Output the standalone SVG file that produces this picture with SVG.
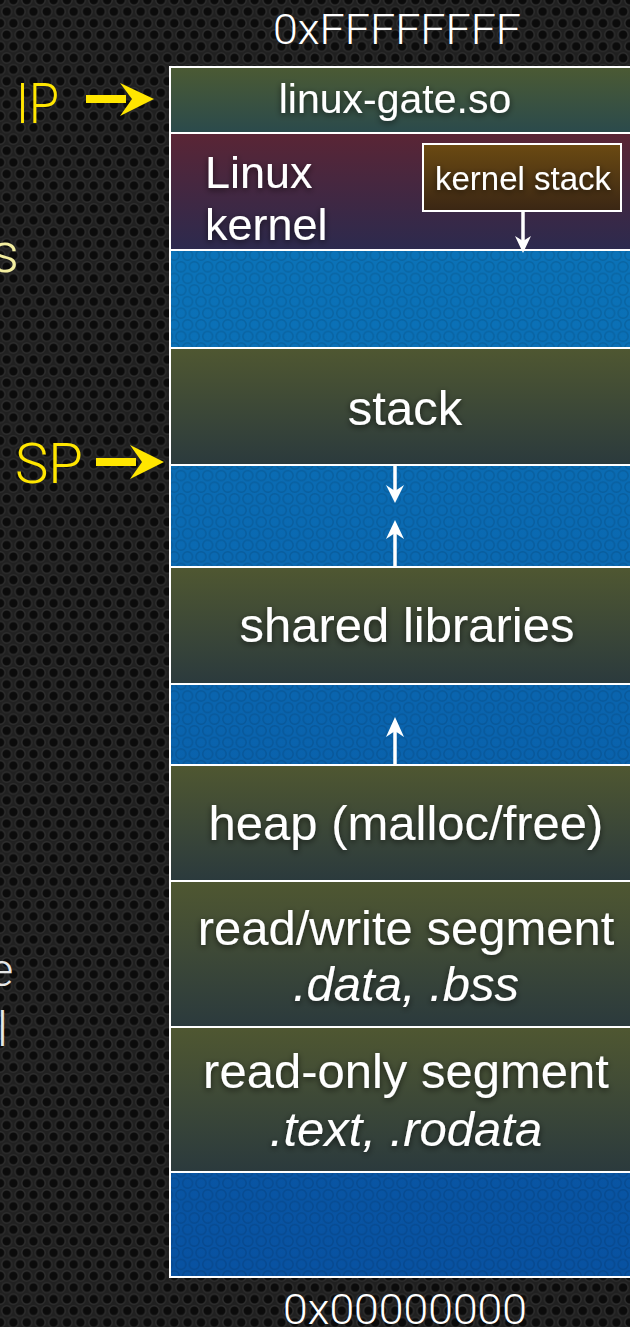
<svg xmlns="http://www.w3.org/2000/svg" width="630" height="1327" viewBox="0 0 630 1327">
<style>
.seg{stroke:#ffffff;stroke-width:2}
.lbl{font-family:"Liberation Sans",Arial,sans-serif;fill:#ffffff;text-anchor:middle;filter:url(#sh)}
.big{font-size:49px}
.it{font-style:italic}
.thin{font-family:Roboto,"Liberation Sans",sans-serif;font-weight:300}
.addr{font-size:43px;fill:#ffffff;text-anchor:middle}
.reg{font-size:55px;fill:#ffe600}
.conn{stroke:#ffffff;stroke-width:3.5;fill:none}
.head{fill:#ffffff}
.yel{stroke:#ffe600;stroke-width:8;fill:none}
.yhead{fill:#ffe600}
</style>
<defs>
<pattern id="holes" width="13.4" height="23.2" patternUnits="userSpaceOnUse">
<rect width="13.4" height="23.2" fill="#202020"/>
<g fill="#0b0b0b" stroke="#2e2e2e" stroke-width="1.4">
<circle cx="0" cy="0" r="5"/><circle cx="13.4" cy="0" r="5"/>
<circle cx="6.7" cy="11.6" r="5"/>
<circle cx="0" cy="23.2" r="5"/><circle cx="13.4" cy="23.2" r="5"/>
</g>
</pattern>
<pattern id="bholes" width="13.4" height="23.2" patternUnits="userSpaceOnUse">
<g fill="none" stroke="#000000" stroke-opacity="0.12" stroke-width="1.4">
<circle cx="0" cy="0" r="5"/><circle cx="13.4" cy="0" r="5"/>
<circle cx="6.7" cy="11.6" r="5"/>
<circle cx="0" cy="23.2" r="5"/><circle cx="13.4" cy="23.2" r="5"/>
</g>
</pattern>
<linearGradient id="gseg" x1="0" y1="0" x2="0" y2="1">
<stop offset="0" stop-color="#4f5731"/><stop offset="1" stop-color="#2b3a3d"/>
</linearGradient>
<linearGradient id="glg" x1="0" y1="0" x2="0" y2="1">
<stop offset="0" stop-color="#4b5a33"/><stop offset="1" stop-color="#2a4a4c"/>
</linearGradient>
<linearGradient id="gker" x1="0" y1="0" x2="0" y2="1">
<stop offset="0" stop-color="#5a2535"/><stop offset="1" stop-color="#2c2a4e"/>
</linearGradient>
<linearGradient id="gks" x1="0" y1="0" x2="0" y2="1">
<stop offset="0" stop-color="#6b4a12"/><stop offset="1" stop-color="#3a2614"/>
</linearGradient>
<linearGradient id="gblue" x1="0" y1="0" x2="0" y2="1327" gradientUnits="userSpaceOnUse">
<stop offset="0.18" stop-color="#0b73b8"/><stop offset="1" stop-color="#0850a0"/>
</linearGradient>
<filter id="sh" x="-10%" y="-30%" width="120%" height="160%">
<feDropShadow dx="0" dy="2" stdDeviation="3" flood-color="#000000" flood-opacity="0.6"/>
</filter>
</defs>

<rect width="630" height="1327" fill="url(#holes)"/>

<g id="fragments" class="thin">
<text x="-9" y="272" font-size="55" fill="#f3eea0">s</text>
<text x="-11" y="986" font-size="47" fill="#e6e6e6">e</text>
<text x="-3" y="1046" font-size="48" fill="#e6e6e6">l</text>
</g>

<g id="addr-top"><text class="thin addr" x="397" y="44" textLength="248" lengthAdjust="spacingAndGlyphs">0xFFFFFFFF</text></g>
<g id="addr-bottom"><text class="thin addr" x="405" y="1324" textLength="244" lengthAdjust="spacingAndGlyphs">0x00000000</text></g>

<g id="gap1"><rect class="seg" x="170" y="250" width="470" height="98" fill="url(#gblue)"/><rect x="171" y="251" width="470" height="96" fill="url(#bholes)"/></g>
<g id="gap2"><rect class="seg" x="170" y="465" width="470" height="102" fill="url(#gblue)"/><rect x="171" y="466" width="470" height="100" fill="url(#bholes)"/></g>
<g id="gap3"><rect class="seg" x="170" y="684" width="470" height="81" fill="url(#gblue)"/><rect x="171" y="685" width="470" height="79" fill="url(#bholes)"/></g>
<g id="gap4"><rect class="seg" x="170" y="1172" width="470" height="105" fill="url(#gblue)"/><rect x="171" y="1173" width="470" height="103" fill="url(#bholes)"/></g>

<g id="linux-gate">
<rect class="seg" x="170" y="67" width="470" height="66" fill="url(#glg)"/>
<text class="lbl" x="395" y="113" font-size="41">linux-gate.so</text>
</g>

<g id="kernel">
<rect class="seg" x="170" y="133" width="470" height="117" fill="url(#gker)"/>
<text class="lbl" x="205" y="188" font-size="45" style="text-anchor:start">Linux</text>
<text class="lbl" x="205" y="240" font-size="45" style="text-anchor:start">kernel</text>
</g>

<g id="kernel-stack">
<rect x="423" y="144" width="198" height="67" fill="url(#gks)" stroke="#ffffff" stroke-width="2"/>
<text class="lbl" x="523" y="190" font-size="33">kernel stack</text>
</g>

<g id="stack">
<rect class="seg" x="170" y="348" width="470" height="117" fill="url(#gseg)"/>
<text class="lbl big" x="405" y="425">stack</text>
</g>

<g id="shared-libraries">
<rect class="seg" x="170" y="567" width="470" height="117" fill="url(#gseg)"/>
<text class="lbl big" x="407" y="642">shared libraries</text>
</g>

<g id="heap">
<rect class="seg" x="170" y="765" width="470" height="116" fill="url(#gseg)"/>
<text class="lbl big" x="406" y="840">heap (malloc/free)</text>
</g>

<g id="rw-segment">
<rect class="seg" x="170" y="881" width="470" height="146" fill="url(#gseg)"/>
<text class="lbl big" x="406" y="945">read/write segment</text>
<text class="lbl big it" x="406" y="1001">.data, .bss</text>
</g>

<g id="ro-segment">
<rect class="seg" x="170" y="1027" width="470" height="145" fill="url(#gseg)"/>
<text class="lbl big" x="406" y="1088">read-only segment</text>
<text class="lbl big it" x="406" y="1146">.text, .rodata</text>
</g>

<g id="IP">
<text class="thin reg" x="16" y="123" textLength="43" lengthAdjust="spacingAndGlyphs">IP</text>
</g>
<g id="SP">
<text class="thin reg" x="15" y="483" textLength="68" lengthAdjust="spacingAndGlyphs">SP</text>
</g>

<g id="connectors">
<line class="conn" x1="523" y1="212" x2="523" y2="242"/>
<path class="head" d="M515,236 L523,253 L531,236 L523,241 Z"/>
<line class="conn" x1="395" y1="466" x2="395" y2="492"/>
<path class="head" d="M386,485 L395,503 L404,485 L395,491 Z"/>
<line class="conn" x1="395" y1="566" x2="395" y2="532"/>
<path class="head" d="M386,539 L395,520 L404,539 L395,533 Z"/>
<line class="conn" x1="395" y1="766" x2="395" y2="730"/>
<path class="head" d="M386,737 L395,717 L404,737 L395,731 Z"/>
<line class="yel" x1="86" y1="99" x2="126" y2="99"/>
<path class="yhead" d="M120,83 L154,99 L120,116 L132,99 Z"/>
<line class="yel" x1="96" y1="462" x2="136" y2="462"/>
<path class="yhead" d="M130,445 L164,462 L130,479 L142,462 Z"/>
</g>
</svg>
